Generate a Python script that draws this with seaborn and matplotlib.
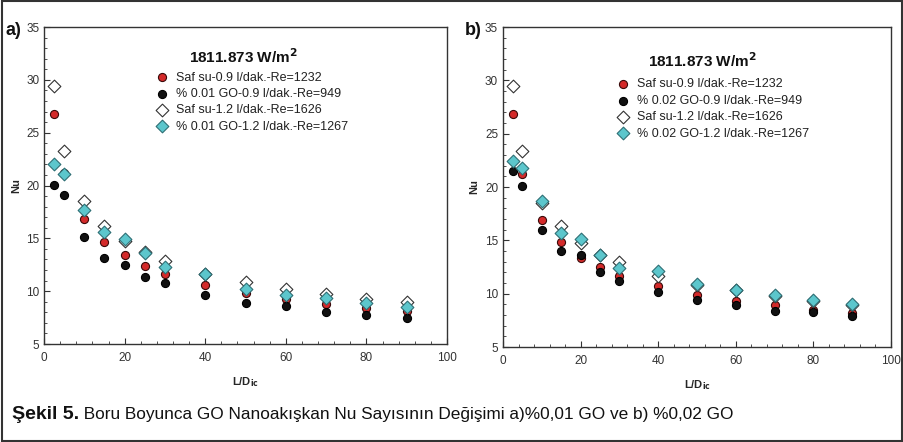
import numpy as np
import pandas as pd
import matplotlib
matplotlib.use("Agg")
import matplotlib.pyplot as plt
from matplotlib.patches import Rectangle
from matplotlib.ticker import MultipleLocator
from matplotlib import font_manager
import seaborn as sns

sns.set_theme(style="white")

def have_font(name):
    try:
        font_manager.findfont(font_manager.FontProperties(family=name), fallback_to_default=False)
        return True
    except Exception:
        return False

NARROW = have_font('Liberation Sans Narrow')
plt.rcParams['font.family'] = ['Liberation Sans', 'DejaVu Sans']

x_vals = [2.5, 5, 10, 15, 20, 25, 30, 40, 50, 60, 70, 80, 90]

# Panel a) %0.01 GO
a_saf09 = [26.8, 21.2, 16.85, 14.7, 13.4, 12.4, 11.6, 10.6, 9.8, 9.3, 8.8, 8.4, 8.1]
a_go09 = [20.05, 19.1, 15.15, 13.1, 12.5, 11.35, 10.75, 9.6, 8.9, 8.6, 8.0, 7.7, 7.45]
a_saf12 = [29.4, 23.3, 18.5, 16.2, 14.75, 13.7, 12.9, 11.6, 10.9, 10.25, 9.7, 9.3, 8.95]
a_go12 = [22.05, 21.1, 17.65, 15.6, 14.9, 13.6, 12.3, 11.6, 10.25, 9.65, 9.35, 8.85, 8.5]

# Panel b) %0.02 GO
b_saf09 = [26.8, 21.2, 16.9, 14.8, 13.35, 12.5, 11.7, 10.7, 9.9, 9.3, 8.9, 8.5, 8.2]
b_go09 = [21.5, 20.05, 16.0, 14.0, 13.6, 12.05, 11.15, 10.2, 9.4, 8.95, 8.35, 8.25, 7.95]
b_saf12 = [29.5, 23.4, 18.5, 16.3, 14.75, 13.6, 12.95, 11.7, 10.8, 10.3, 9.75, 9.3, 8.95]
b_go12 = [22.45, 21.75, 18.65, 15.7, 15.15, 13.6, 12.45, 12.15, 10.9, 10.3, 9.85, 9.4, 9.05]

labels_a = ["Saf su-0.9 l/dak.-Re=1232", "% 0.01 GO-0.9 l/dak.-Re=949",
            "Saf su-1.2 l/dak.-Re=1626", "% 0.01 GO-1.2 l/dak.-Re=1267"]
labels_b = ["Saf su-0.9 l/dak.-Re=1232", "% 0.02 GO-0.9 l/dak.-Re=949",
            "Saf su-1.2 l/dak.-Re=1626", "% 0.02 GO-1.2 l/dak.-Re=1267"]

legend_title = "1811.873 W/m$^\\mathbf{2}$"
caption_bold = "Şekil 5."
caption_rest = " Boru Boyunca GO Nanoakışkan Nu Sayısının Değişimi a)%0,01 GO ve b) %0,02 GO"

styles = [
    dict(marker="o", facecolor="#d42a2a", edgecolor="#3a0a0a", s=34),
    dict(marker="o", facecolor="#111111", edgecolor="#000000", s=34),
    dict(marker="D", facecolor="white", edgecolor="#333333", s=42),
    dict(marker="D", facecolor="#5cc6cc", edgecolor="#2f6f75", s=42),
]

fig = plt.figure(figsize=(9.04, 4.42), dpi=100)

def make_panel(rect, series, labels, letter, leg_anchor, title_xy, letter_x, nupad):
    ax = fig.add_axes(rect)
    for vals, lab, st in zip(series, labels, styles):
        df = pd.DataFrame({"x": x_vals, "y": vals})
        sns.scatterplot(data=df, x="x", y="y", ax=ax, marker=st["marker"],
                        color=st["facecolor"], edgecolor=st["edgecolor"],
                        linewidth=0.8, s=st["s"], label=lab, zorder=3)
    ax.set_xlim(0, 100)
    ax.set_ylim(5, 35)
    ax.xaxis.set_major_locator(MultipleLocator(20))
    ax.xaxis.set_minor_locator(MultipleLocator(4))
    ax.yaxis.set_major_locator(MultipleLocator(5))
    ax.yaxis.set_minor_locator(MultipleLocator(1))
    ax.tick_params(which="both", direction="in", colors="#333333",
                   labelsize=8.5, labelcolor="#333333")
    ax.tick_params(which="major", length=4, width=0.8)
    ax.tick_params(axis="x", which="major", pad=6)
    ax.tick_params(axis="y", which="major", pad=3.5)
    ax.tick_params(which="minor", length=2.5, width=0.6)
    ax.tick_params(axis="x", which="both", bottom=True, top=False)
    ax.tick_params(axis="y", which="both", left=True, right=False)
    for sp in ax.spines.values():
        sp.set_color("#333333")
        sp.set_linewidth(1.0)
    ax.set_xlabel("L/D$_{\\mathbf{ic}}$", fontsize=8, fontweight="bold", labelpad=8)
    ax.set_ylabel("Nu", fontsize=8, fontweight="bold", labelpad=nupad)
    leg = ax.legend(loc="upper left", bbox_to_anchor=leg_anchor, frameon=False,
                    fontsize=9, handletextpad=0.6, labelspacing=0.35,
                    borderaxespad=0, handlelength=1.0)
    for t in leg.get_texts():
        t.set_color("#222222")
    ax.text(title_xy[0], title_xy[1], legend_title, transform=ax.transAxes,
            fontsize=11, fontweight="bold", ha="center", va="center", color="#111111")
    ax.text(letter_x, 0.99, letter, transform=ax.transAxes, fontsize=13,
            fontweight="bold", ha="right", va="center", color="#111111")
    return ax

ax1 = make_panel([0.0487, 0.2217, 0.4458, 0.7172],
                 [a_saf09, a_go09, a_saf12, a_go12], labels_a, "a)",
                 (0.265, 0.875), (0.495, 0.905), -0.055, 3.5)
ax2 = make_panel([0.5564, 0.2149, 0.4292, 0.7240],
                 [b_saf09, b_go09, b_saf12, b_go12], labels_b, "b)",
                 (0.28, 0.855), (0.515, 0.895), -0.056, 4)

fig.text(0.013, 0.062, caption_bold, fontsize=14, fontweight="bold",
         ha="left", va="center", color="#111111")
fig.canvas.draw()
renderer = fig.canvas.get_renderer()
r = fig.texts[0].get_window_extent(renderer)
if NARROW:
    t = fig.text(r.x1 / fig.bbox.width, 0.062, caption_rest, fontsize=14,
                 family=['Liberation Sans Narrow', 'DejaVu Sans'],
                 ha="left", va="center", color="#111111")
else:
    t = fig.text(r.x1 / fig.bbox.width, 0.062, caption_rest, fontsize=14,
                 ha="left", va="center", color="#111111")
    w = t.get_window_extent(renderer).width
    t.set_fontsize(14 * 660.0 / w)

fig.patches.append(Rectangle((0.002, 0.002), 0.996, 0.996, transform=fig.transFigure,
                             fill=False, edgecolor="#333333", linewidth=1.5))

fig.savefig("out.png", dpi=100)
